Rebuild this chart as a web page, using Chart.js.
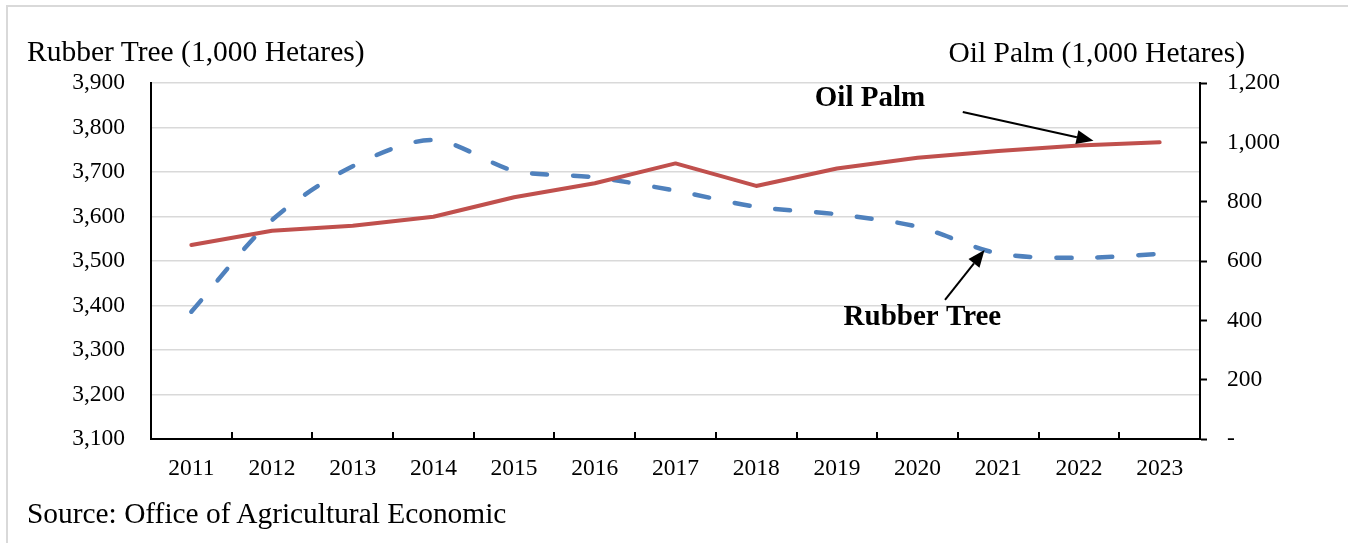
<!DOCTYPE html>
<html>
<head>
<meta charset="utf-8">
<script src="https://cdn.jsdelivr.net/npm/chart.js@4/dist/chart.umd.min.js"></script>
<style>
  html, body { margin: 0; padding: 0; background: #fff; }
  #wrap { position: relative; width: 1348px; height: 543px; overflow: hidden; }
  #frame { position: absolute; left: 6px; top: 5px; right: -10px; bottom: -10px;
           border-top: 2px solid #d9d9d9; border-left: 2px solid #d9d9d9; }
  .lbl { position: absolute; font-family: 'Liberation Serif', 'Times New Roman', serif;
         color: #000; line-height: 1; white-space: nowrap; }
</style>
</head>
<body>
<div id="wrap">
  <div id="frame"></div>
  <canvas id="myChart" width="1348" height="543"></canvas>
  <div class="lbl" style="left:27px; top:37px; font-size:29.5px;">Rubber Tree (1,000 Hetares)</div>
  <div class="lbl" style="right:103px; top:38px; font-size:29.5px;">Oil Palm (1,000 Hetares)</div>
  <div class="lbl" style="left:27px; top:499px; font-size:29.4px;">Source: Office of Agricultural Economic</div>
</div>
<script>
/* data */
const years = ['2011', '2012', '2013', '2014', '2015', '2016', '2017', '2018', '2019', '2020', '2021', '2022', '2023'];
const rubberTree = [3386, 3592, 3713, 3772, 3703, 3688, 3658, 3622, 3605, 3577, 3517, 3507, 3516];
const oilPalm = [654, 702, 719, 749, 815, 862, 929, 853, 912, 948, 971, 989, 1000];

// callouts: [text, x index, right-axis value] and arrows [x0, v0, x1, v1]
const callouts = [
  { text: 'Oil Palm', at: [8.41, 1149], arrow: [9.56, 1102, 11.18, 1005] },
  { text: 'Rubber Tree', at: [9.06, 408], arrow: [9.34, 469, 9.83, 637] }
];

const serif = "'Liberation Serif', 'Times New Roman', serif";

// inward tick marks between categories + callout text/arrows
const extras = {
  id: 'extras',
  afterDraw(chart) {
    const c = chart.ctx, x = chart.scales.x, y1 = chart.scales.y1;
    const bottom = chart.chartArea.bottom;
    c.save();
    c.strokeStyle = '#000';
    c.lineWidth = 2;
    for (let i = 1; i < years.length; i++) {
      const px = Math.round((x.getPixelForValue(i - 1) + x.getPixelForValue(i)) / 2);
      c.beginPath();
      c.moveTo(px, bottom);
      c.lineTo(px, bottom - 7);
      c.stroke();
    }
    c.fillStyle = '#000';
    c.font = 'bold 29px ' + serif;
    c.textAlign = 'center';
    c.textBaseline = 'middle';
    callouts.forEach(o => {
      c.fillText(o.text, x.getPixelForValue(o.at[0]), y1.getPixelForValue(o.at[1]));
      const ax = x.getPixelForValue(o.arrow[0]), ay = y1.getPixelForValue(o.arrow[1]);
      const bx = x.getPixelForValue(o.arrow[2]), by = y1.getPixelForValue(o.arrow[3]);
      const ang = Math.atan2(by - ay, bx - ax);
      const hl = 17, hw = 7;
      c.beginPath();
      c.moveTo(ax, ay);
      c.lineTo(bx - hl * Math.cos(ang), by - hl * Math.sin(ang));
      c.stroke();
      c.beginPath();
      c.moveTo(bx, by);
      c.lineTo(bx - hl * Math.cos(ang) + hw * Math.sin(ang), by - hl * Math.sin(ang) - hw * Math.cos(ang));
      c.lineTo(bx - hl * Math.cos(ang) - hw * Math.sin(ang), by - hl * Math.sin(ang) + hw * Math.cos(ang));
      c.closePath();
      c.fill();
    });
    c.restore();
  }
};

const ctx = document.getElementById('myChart').getContext('2d');
const myChart = new Chart(ctx, {
  type: 'line',
  data: {
    labels: years,
    datasets: [
      {
        label: 'Oil Palm',
        data: oilPalm,
        yAxisID: 'y1',
        borderColor: '#C0504D',
        borderWidth: 4,
        borderJoinStyle: 'round',
        borderCapStyle: 'round',
        pointRadius: 0,
        tension: 0
      },
      {
        label: 'Rubber Tree',
        data: rubberTree,
        yAxisID: 'y',
        borderColor: '#4F81BD',
        borderWidth: 4.5,
        borderDash: [15, 26],
        borderCapStyle: 'round',
        borderJoinStyle: 'round',
        pointRadius: 0,
        tension: 0.3
      }
    ]
  },
  plugins: [extras],
  options: {
    responsive: false,
    animation: false,
    layout: { padding: { top: 83, left: 0, right: 0, bottom: 0 } },
    plugins: {
      legend: { display: false },
      tooltip: { enabled: false }
    },
    scales: {
      x: {
        offset: true,
        grid: { display: true, drawOnChartArea: false, drawTicks: false },
        border: { display: true, color: '#000', width: 2 },
        ticks: { color: '#000', font: { family: serif, size: 23.5 }, padding: 16, maxRotation: 0 },
        afterFit(s) { s.height = 104; }
      },
      y: {
        position: 'left',
        min: 3100,
        max: 3900,
        grid: { color: '#d9d9d9', lineWidth: 1.5, drawTicks: false },
        border: { display: true, color: '#000', width: 2 },
        ticks: {
          stepSize: 100,
          color: '#000',
          font: { family: serif, size: 23.5 },
          padding: 26,
          callback: v => v.toLocaleString('en-US')
        },
        afterFit(s) { s.width = 151; }
      },
      y1: {
        position: 'right',
        min: 0,
        max: 1200,
        grid: { drawOnChartArea: false, drawTicks: true, tickLength: 7, tickColor: '#000', tickWidth: 2 },
        border: { display: true, color: '#000', width: 2 },
        ticks: {
          stepSize: 200,
          color: '#000',
          font: { family: serif, size: 23.5 },
          padding: 20,
          callback: v => v === 0 ? '-' : v.toLocaleString('en-US')
        },
        afterFit(s) { s.width = 148; }
      }
    }
  }
});
</script>
</body>
</html>
